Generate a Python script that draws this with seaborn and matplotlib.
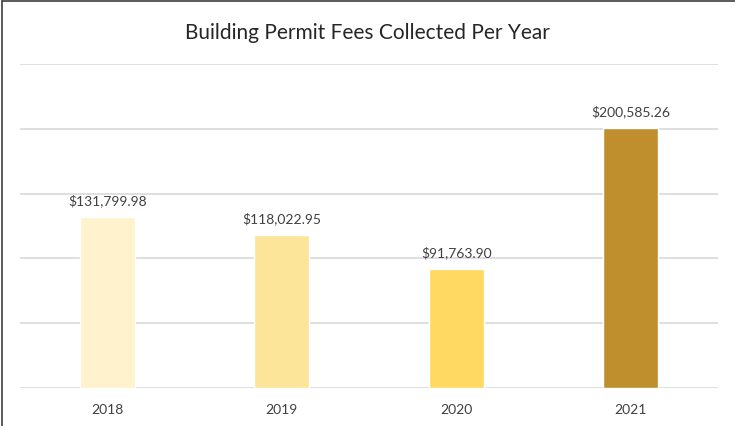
import matplotlib
matplotlib.use("Agg")
import matplotlib.pyplot as plt
import seaborn as sns
import pandas as pd
from matplotlib.lines import Line2D

# data
years = ["2018", "2019", "2020", "2021"]
fees = [131799.98, 118022.95, 91763.90, 200585.26]
bar_colors = ["#FFF2CC", "#FCE598", "#FFD961", "#BF8F2E"]

df = pd.DataFrame({"year": years, "fee": fees})

sns.set_theme(style="white")
plt.rcParams["font.family"] = ["Lato", "DejaVu Sans"]

W, H = 735, 427
fig = plt.figure(figsize=(W / 100, H / 100), dpi=100)
ax = fig.add_axes([20 / W, 38 / H, 698 / W, (389 - 65) / H])

sns.barplot(data=df, x="year", y="fee", hue="year", palette=bar_colors,
            width=0.315, legend=False, ax=ax, saturation=1)

ax.set_ylim(0, 250000)
ax.set_yticks(range(0, 250001, 50000))
ax.yaxis.grid(True, color="#D9D9D9", linewidth=1.2)
ax.set_axisbelow(True)
ax.tick_params(axis="y", left=False, labelleft=False)
ax.tick_params(axis="x", bottom=False, labelsize=10, colors="#404040", pad=5)
for s in ax.spines.values():
    s.set_visible(False)
ax.set_xlabel("")
ax.set_ylabel("")

for i, v in enumerate(fees):
    ax.annotate(f"${v:,.2f}", (i, v), xytext=(0, 8), textcoords="offset points",
                ha="center", va="bottom", fontsize=10, color="#404040")

fig.text(0.5, 1 - 33 / H, "Building Permit Fees Collected Per Year",
         ha="center", va="center", fontsize=15, color="#262626")

# frame edges visible in the screenshot crop
fig.add_artist(Line2D([2 / W, 1], [1 - 2 / H, 1 - 2 / H], color="#404040", linewidth=1.2))
fig.add_artist(Line2D([2 / W, 2 / W], [0, 1 - 2 / H], color="#404040", linewidth=1.2))

fig.savefig("out.png", dpi=100)
